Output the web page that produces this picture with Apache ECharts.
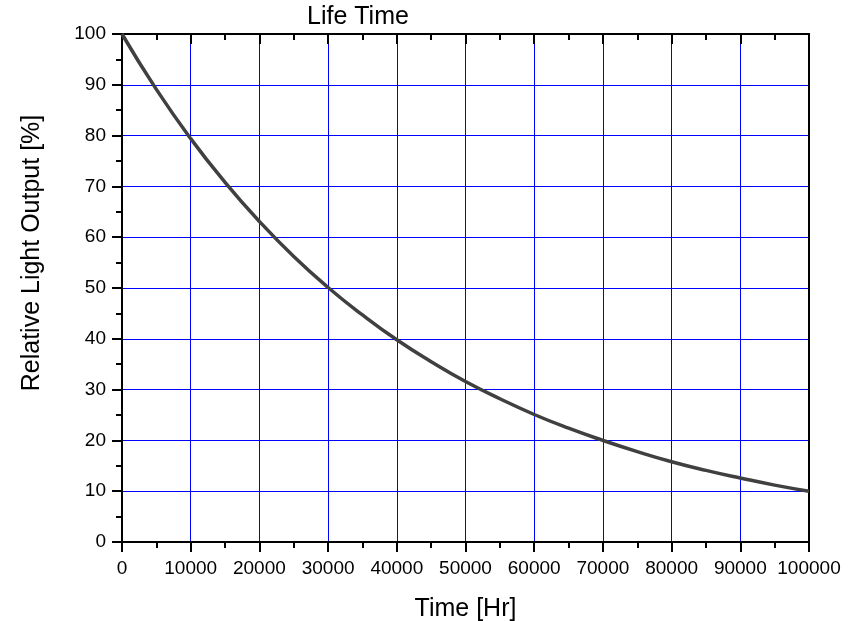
<!DOCTYPE html>
<html>
<head>
<meta charset="utf-8">
<script src="https://cdn.jsdelivr.net/npm/echarts@6/dist/echarts.min.js"></script>
<style>
  html, body { margin: 0; padding: 0; background: #fff; }
  #chart { width: 864px; height: 621px; }
</style>
</head>
<body>
<div id="chart"></div>
<script>
// Operating time in hours
const hours = [0, 5000, 10000, 15000, 20000, 25000, 30000, 35000, 40000, 45000,
  50000, 55000, 60000, 65000, 70000, 75000, 80000, 85000, 90000, 95000, 100000];
// Relative light output in percent
const lightOutput = [100, 89.1, 79.4, 70.8, 63.1, 56.2, 50.1, 44.7, 39.8, 35.5,
  31.6, 28.2, 25.1, 22.4, 20.0, 17.8, 15.8, 14.1, 12.6, 11.2, 10.0];

const titleText = 'Life Time';
const xTitle = 'Time [Hr]';
const yTitle = 'Relative Light Output [%]';

const FONT = 'Liberation Sans, Arial, sans-serif';
const grid = { left: 122, right: 55, top: 34, bottom: 79, containLabel: false, outerBoundsMode: 'none' };

const chart = echarts.init(document.getElementById('chart'), null, { renderer: 'canvas' });

const axisLine = { show: true, onZero: false, lineStyle: { color: '#000', width: 2 } };
const tickStyle = { color: '#000', width: 2 };
const plain = v => String(v);

chart.setOption({
  animation: false,
  backgroundColor: '#fff',
  grid: grid,
  graphic: [
    {
      type: 'text',
      left: 307, top: 5,
      style: { text: titleText, font: '25px ' + FONT, fill: '#000' }
    },
    {
      type: 'text',
      x: 32, y: 253,
      rotation: Math.PI / 2,
      style: {
        text: yTitle, font: '25px ' + FONT, fill: '#000',
        align: 'center', verticalAlign: 'middle'
      }
    }
  ],
  xAxis: [
    {
      type: 'value', min: 0, max: 100000, interval: 10000,
      position: 'bottom',
      name: xTitle, nameLocation: 'middle', nameGap: 55,
      nameTextStyle: { fontFamily: FONT, fontSize: 25, color: '#000' },
      axisLine: axisLine,
      axisTick: { show: true, inside: false, length: 10, lineStyle: tickStyle },
      minorTick: { show: true, splitNumber: 2, length: 6, lineStyle: tickStyle },
      axisLabel: { fontFamily: FONT, fontSize: 19, color: '#000', margin: 17, formatter: plain },
      splitLine: { show: true, lineStyle: { color: '#0000ff', width: 1 } }
    },
    {
      type: 'value', min: 0, max: 100000, interval: 10000,
      position: 'top',
      axisLine: axisLine,
      axisTick: { show: true, inside: true, length: 10, lineStyle: tickStyle },
      minorTick: { show: true, splitNumber: 2, length: 6, lineStyle: tickStyle },
      axisLabel: { show: false },
      splitLine: { show: false }
    }
  ],
  yAxis: [
    {
      type: 'value', min: 0, max: 100, interval: 10,
      position: 'left',
      axisLine: axisLine,
      axisTick: { show: true, inside: false, length: 10, lineStyle: tickStyle },
      minorTick: { show: true, splitNumber: 2, length: 6, lineStyle: tickStyle },
      axisLabel: { fontFamily: FONT, fontSize: 19, color: '#000', margin: 16, formatter: plain },
      splitLine: { show: true, lineStyle: { color: '#0000ff', width: 1 } }
    },
    {
      type: 'value', min: 0, max: 100, interval: 10,
      position: 'right',
      axisLine: axisLine,
      axisTick: { show: false },
      axisLabel: { show: false },
      splitLine: { show: false }
    }
  ],
  series: [
    {
      type: 'line',
      xAxisIndex: 0, yAxisIndex: 0,
      data: hours.map((h, i) => [h, lightOutput[i]]),
      smooth: true,
      showSymbol: false,
      lineStyle: { color: '#404040', width: 3.5 },
      z: 5
    }
  ]
});
</script>
</body>
</html>
